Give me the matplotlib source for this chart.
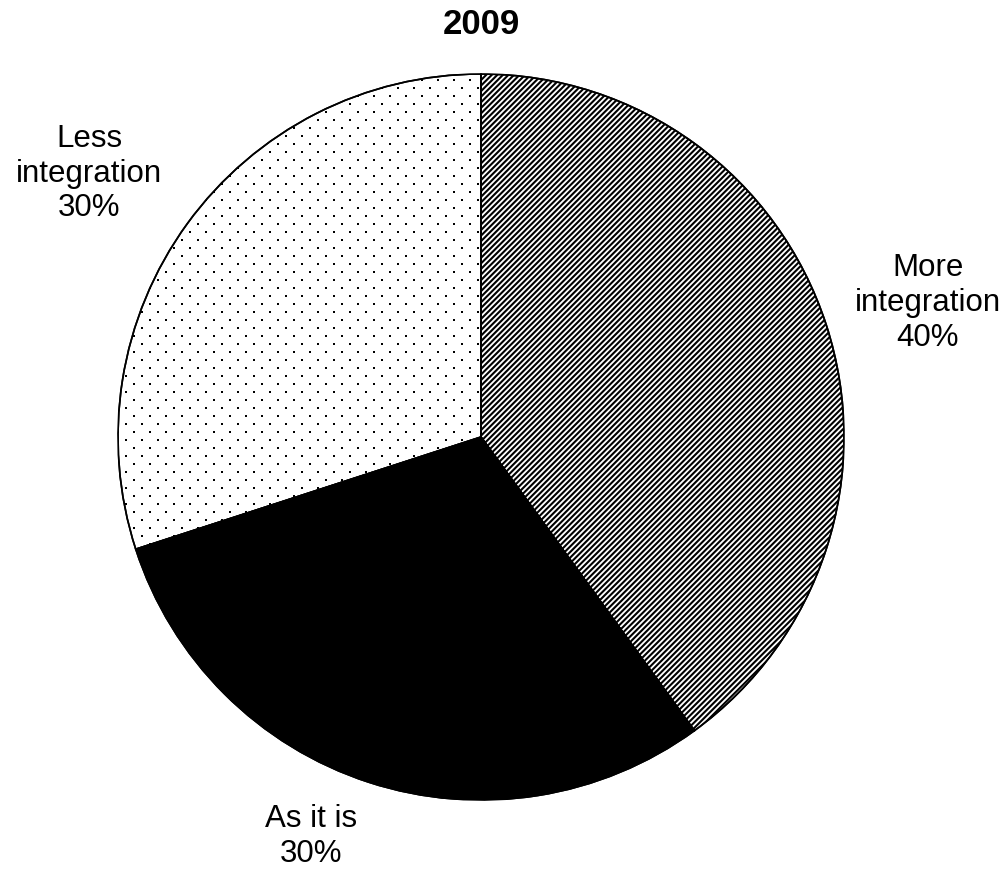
import numpy as np
import matplotlib
matplotlib.use("Agg")
import matplotlib.pyplot as plt
from matplotlib.patches import Wedge

# data
labels = ["More\nintegration\n40%", "As it is\n30%", "Less\nintegration\n30%"]
shares = [40, 30, 30]
fills = ["white", "black", "white"]
hatches = ["//////", "", ""]
dotted = [False, False, True]
label_pos = [(1.231, 0.369), (-0.468, -1.10), (-1.080, 0.725)]
title = "2009"

plt.rcParams["font.family"] = ["Liberation Sans", "DejaVu Sans"]
plt.rcParams["hatch.linewidth"] = 1.5
plt.rcParams["hatch.color"] = "black"

fig = plt.figure(figsize=(10.08, 8.73), dpi=100)
ax = fig.add_axes([118 / 1008, 73 / 873, 726 / 1008, 726 / 873])

wedges, _ = ax.pie(shares, startangle=90, counterclock=False, colors=fills,
                   wedgeprops=dict(edgecolor="black", linewidth=1.2))
for w, h in zip(wedges, hatches):
    w.set_hatch(h)

# dotted fill texture, clipped to the wedge
step = 8 / 363
ys = np.arange(-1.0, 1.0 + step, step)
px, py = [], []
for i, y in enumerate(ys):
    xs = np.arange(-1.0 + (i % 2) * step, 1.0 + step, 2 * step)
    px.extend(xs)
    py.extend([y] * len(xs))
for w, d in zip(wedges, dotted):
    if d:
        sc = ax.scatter(px, py, s=3.2, marker="s", color="black",
                        linewidths=0, zorder=2)
        sc.set_clip_path(w)
    # redraw outline on top
    ax.add_patch(Wedge(w.center, w.r, w.theta1, w.theta2, fill=False,
                       edgecolor="black", linewidth=1.2, zorder=3))

for (x, y), lab in zip(label_pos, labels):
    ax.text(x, y, lab, ha="center", va="center", multialignment="center",
            fontsize=22.5, linespacing=1.2)

ax.set_xlim(-1, 1)
ax.set_ylim(-1, 1)
ax.set_aspect("equal")
ax.axis("off")

fig.text(481 / 1008, 1 - 24 / 873, title, ha="center", va="center",
         fontsize=25, fontweight="bold")

fig.savefig("out.png", dpi=100, facecolor="white")
